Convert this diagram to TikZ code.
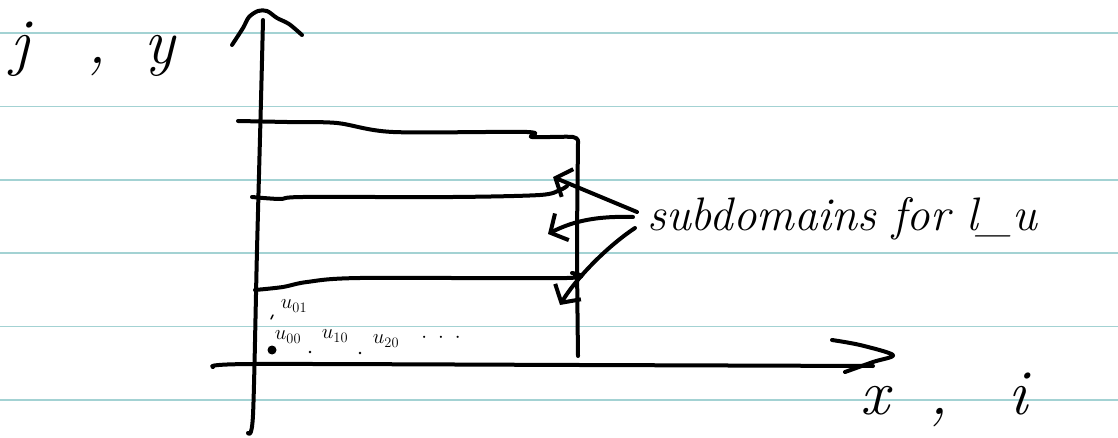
\documentclass[tikz,border=0pt]{standalone}
\usetikzlibrary{arrows.meta}
\definecolor{ruleteal}{RGB}{163,210,211}
\begin{document}
\begin{tikzpicture}[x=1pt,y=-1pt,
  ink/.style={line width=4pt, line cap=round, line join=round},
  thinink/.style={line width=1.5pt, line cap=round},
  ruling/.style={draw=ruleteal, line width=1.6pt},
  hand/.style={font=\itshape, inner sep=0pt},
  barb/.style={-{Straight Barb[length=13pt,width=30pt]}},
  small/.style={inner sep=0pt, font=\fontsize{21}{23}\selectfont},
]
\useasboundingbox (0,0) rectangle (1118,438);
\fill[white] (0,0) rectangle (1118,438);
% ruled paper
\foreach \yy in {33.2,106.7,180,253.3,326.6,399.8}
  \draw[ruling] (0,\yy) -- (1118,\yy);

% vertical axis with hat
\draw[ink] plot[smooth] coordinates {(248,433) (253,415) (257,250) (261,100) (263,20)};
\draw[ink] plot[smooth] coordinates {(232,45) (243,28) (249,17) (258,11) (267,11) (277,18) (289,24) (302,35)};

% horizontal axis with open head
\draw[ink] plot[smooth] coordinates {(213,367) (253,364) (580,365) (873,366)};
\draw[ink] plot[smooth] coordinates {(832,340) (860,345) (893,355) (873,362) (845,372)};

% domain outline and subdomain boundaries
\draw[ink] plot[smooth] coordinates {(578,143) (577,250) (578,356)};
\draw[ink] plot[smooth] coordinates {(238,121) (287,122) (337,123) (393,132) (527,132) (532,137) (573,137) (578,143)};
\draw[ink] plot[smooth] coordinates {(252,197) (280,199) (303,197) (453,197) (540,195) (560,190) (567,186)};
\draw[ink] plot[smooth] coordinates {(255,290) (283,287) (307,282) (360,278) (567,278) (572,273)};

% axis labels
\node[hand, font=\fontsize{64}{66}\selectfont\itshape, anchor=base west] (jy) at (10,64) {j\hspace{58pt},\hspace{38pt}y};
\node[hand, font=\fontsize{64}{66}\selectfont\itshape, anchor=base west] (xi) at (860,414) {x\hspace{40pt},\hspace{60pt}i};

% subdomain label and pointers
\node[hand, font=\fontsize{47}{49}\selectfont\itshape, anchor=base west] (sub) at (647,231) {subdomains for l\_u};
\coordinate (t1) at (553,177);
\coordinate (t2) at (548,234);
\coordinate (t3) at (560,305);
\draw[ink, barb] ([xshift=-10pt,yshift=19pt]sub.base west) -- (t1);
\draw[ink, barb] ([xshift=-14pt,yshift=14pt]sub.base west) .. controls (600,216) and (575,220) .. (t2);
\draw[ink, barb] ([xshift=-12pt,yshift=3pt]sub.base west) .. controls (605,248) and (575,280) .. (t3);

% grid values
\node[small] (u01) at (294,306) {$u_{01}$};
\node[small] (u00) at (288,337) {$u_{00}$};
\node[small] (u10) at (335,336) {$u_{10}$};
\node[small] (u20) at (386,341) {$u_{20}$};
\node[small] (dots) at (441,338) {$\cdot\ \cdot\ \cdot$};
\fill (272,350) circle (4.5pt);
\fill (310,352) circle (1.3pt);
\fill (360,353) circle (1.3pt);
\draw[thinink] (271,319) -- (273,315);
\end{tikzpicture}
\end{document}
